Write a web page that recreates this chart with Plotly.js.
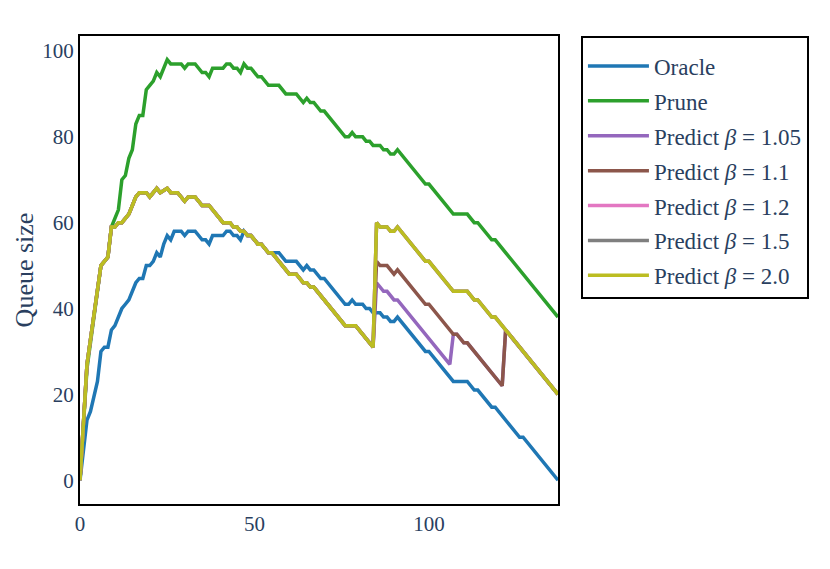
<!DOCTYPE html>
<html>
<head>
<meta charset="utf-8">
<script src="https://cdn.plot.ly/plotly-3.0.1.min.js"></script>
<style>html,body{margin:0;padding:0;background:#fff;}#chart{width:830px;height:569px;}</style>
</head>
<body>
<div id="chart"></div>
<script>
// Oracle
const oracleX = [0,2,3,5,6,7,8,9,10,12,13,14,16,17,18,19,20,21,22,23,24,25,26,27,29,30,31,33,35,36,37,38,41,42,43,44,45,46,47,48,49,51,52,54,57,59,62,64,65,66,67,69,70,76,77,78,79,81,82,83,84,86,87,88,89,90,91,99,100,107,111,112,113,114,118,119,126,127,137];
const oracleY = [0,14,16,23,30,31,31,35,36,40,41,42,46,47,47,50,50,51,53,52,55,57,56,58,58,57,58,58,56,56,55,57,57,58,58,57,57,56,58,57,57,55,55,53,53,51,51,49,50,49,49,47,47,41,41,42,41,41,40,40,39,39,38,38,37,37,38,30,30,23,23,22,21,21,17,17,10,10,0];
// Prune
const pruneX = [0,2,6,8,9,11,12,13,14,15,16,17,18,19,20,21,22,23,25,26,29,30,31,33,35,36,37,38,41,42,43,44,45,46,47,48,49,51,52,54,57,59,62,64,65,66,67,69,70,76,77,78,79,81,82,83,84,86,87,88,89,90,91,99,100,107,111,112,113,114,118,119,137];
const pruneY = [0,26,50,52,59,63,70,71,75,77,83,85,85,91,92,93,95,94,98,97,97,96,97,97,95,95,94,96,96,97,97,96,96,95,97,96,96,94,94,92,92,90,90,88,89,88,88,86,86,80,80,81,80,80,79,79,78,78,77,77,76,76,77,69,69,62,62,61,60,60,56,56,38];
// Predict: shared trajectory (all beta) up to step 84
const predictSharedX = [0,2,6,8,9,10,11,12,13,14,15,16,17,19,20,22,23,25,26,28,30,31,33,35,37,38,41,43,44,45,46,47,48,49,51,52,54,55,60,62,64,65,66,67,76,79,84];
const predictSharedY = [0,27,50,52,59,59,60,60,61,62,64,66,67,67,66,68,67,68,67,67,65,66,66,64,64,63,60,60,59,59,58,58,57,57,55,55,53,53,48,48,46,46,45,45,36,36,31];
// Tails after step 84
const predict105TailX = [85,86,87,88,89,90,91,106,107,108,110,111,121,122,137];
const predict105TailY = [46,45,44,44,43,42,42,27,34,34,32,32,22,35,20];
const predict11TailX = [85,86,88,89,90,91,99,100,107,108,110,111,121,122,137];
const predict11TailY = [51,50,50,49,48,49,41,41,34,34,32,32,22,35,20];
const predict12TailX = [85,86,88,89,90,91,99,100,107,111,112,113,114,118,119,137];
const predict12TailY = [60,59,59,58,58,59,51,51,44,44,43,42,42,38,38,20];
const predict15TailX = [85,86,88,89,90,91,99,100,107,111,112,113,114,118,119,137];
const predict15TailY = [60,59,59,58,58,59,51,51,44,44,43,42,42,38,38,20];
const predict20TailX = [85,86,88,89,90,91,99,100,107,111,112,113,114,118,119,137];
const predict20TailY = [60,59,59,58,58,59,51,51,44,44,43,42,42,38,38,20];

const names = ['Oracle','Prune','Predict <i>β</i> = 1.05','Predict <i>β</i> = 1.1','Predict <i>β</i> = 1.2','Predict <i>β</i> = 1.5','Predict <i>β</i> = 2.0'];
const colors = ['#1f77b4','#2ca02c','#9467bd','#8c564b','#e377c2','#7f7f7f','#bcbd22'];
const xTicks = [0,50,100];
const yTicks = [0,20,40,60,80,100];

const series = [
  [oracleX, oracleY],
  [pruneX, pruneY],
  [predictSharedX.concat(predict105TailX), predictSharedY.concat(predict105TailY)],
  [predictSharedX.concat(predict11TailX), predictSharedY.concat(predict11TailY)],
  [predictSharedX.concat(predict12TailX), predictSharedY.concat(predict12TailY)],
  [predictSharedX.concat(predict15TailX), predictSharedY.concat(predict15TailY)],
  [predictSharedX.concat(predict20TailX), predictSharedY.concat(predict20TailY)]
];

const traces = series.map((s, i) => ({
  x: s[0], y: s[1], type: 'scatter', mode: 'lines', name: names[i],
  legendgroup: 'g' + i,
  line: {color: colors[i], width: 3.5}
}));

const serif = '"Liberation Serif", serif';
const axisFont = {family: serif, size: 21, color: '#2a3f5f'};
const layout = {
  width: 830, height: 569,
  margin: {l: 80, r: 272, t: 36, b: 65},
  paper_bgcolor: '#fff', plot_bgcolor: '#fff',
  font: axisFont,
  showlegend: true,
  legend: {
    x: 1.048, xanchor: 'left', y: 1, yanchor: 'top',
    bordercolor: '#000', borderwidth: 2, bgcolor: '#fff',
    font: {family: serif, size: 23, color: '#2a3f5f'},
    title: {text: ' ', font: {family: serif, size: 5}},
    tracegroupgap: 2, itemwidth: 61
  },
  xaxis: {
    range: [0, 137], tickvals: xTicks, ticktext: xTicks.map(String),
    showgrid: false, zeroline: false, showline: true, linecolor: '#000', linewidth: 2,
    mirror: true, ticks: '', tickfont: axisFont
  },
  yaxis: {
    range: [-5.55, 103.5], tickvals: yTicks, ticktext: yTicks.map(String),
    showgrid: false, zeroline: false, showline: true, linecolor: '#000', linewidth: 2,
    mirror: true, ticks: '', tickfont: axisFont,
    title: {text: 'Queue size', font: {family: serif, size: 26, color: '#2a3f5f'}, standoff: 1}
  }
};
Plotly.newPlot('chart', traces, layout, {displayModeBar: false, staticPlot: true});
</script>
</body>
</html>
